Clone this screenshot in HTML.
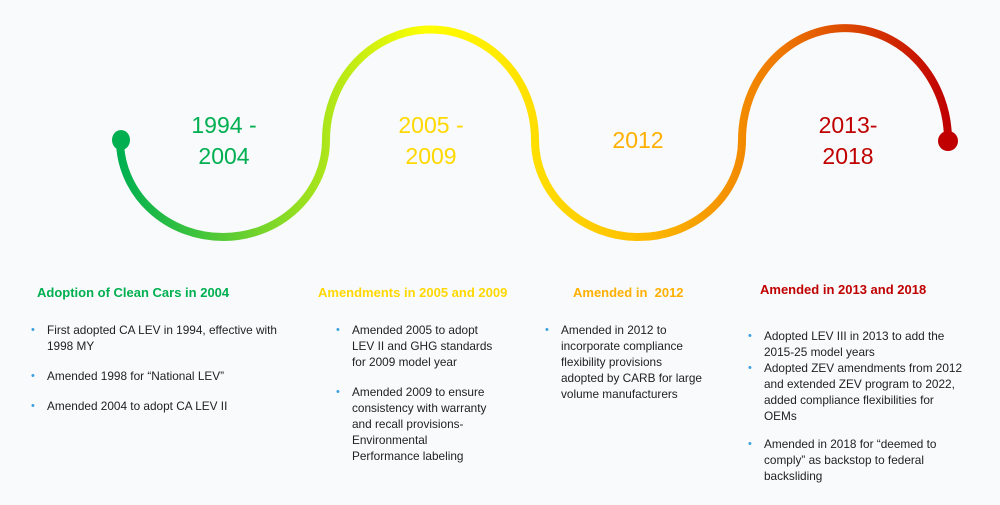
<!DOCTYPE html>
<html><head><meta charset="utf-8"><style>
body{margin:0;width:1000px;height:505px;background:#f8fafc;font-family:"Liberation Sans",sans-serif;position:relative;overflow:hidden}
.y{position:absolute;font-size:23px;text-align:center;line-height:31px;width:120px}
.h{position:absolute;font-weight:bold;font-size:13px;white-space:nowrap}
ul{position:absolute;margin:0;padding:0;list-style:none;font-size:11.8px;color:#222;line-height:16px;white-space:nowrap}
li{position:relative;padding-left:16px;margin-bottom:14px}
li:before{content:"•";position:absolute;left:0;color:#3aa0e0;font-size:11px}
</style></head><body>
<svg width="1000" height="505" style="position:absolute;left:0;top:0">
<defs><linearGradient id="g" gradientUnits="userSpaceOnUse" x1="120" y1="0" x2="948" y2="0">
<stop offset="0" stop-color="#00b050"/><stop offset="0.37" stop-color="#ffff00"/><stop offset="0.62" stop-color="#ffc000"/><stop offset="0.8" stop-color="#ee7700"/><stop offset="1" stop-color="#c00000"/></linearGradient></defs>
<path d="M120,140 A103,97 0 0 0 326,140 A104,110 0 0 1 535,140 A103.5,97 0 0 0 742,140 A103,112 0 0 1 948,140" fill="none" stroke="url(#g)" stroke-width="8"/>
<ellipse cx="121" cy="140" rx="9" ry="10" fill="#00b050"/>
<ellipse cx="948" cy="141" rx="10" ry="10" fill="#c00000"/>
</svg>
<div class="y" style="left:164px;top:110px;color:#00b050">1994 -<br>2004</div>
<div class="y" style="left:371px;top:110px;color:#ffd800">2005 -<br>2009</div>
<div class="y" style="left:578px;top:125px;color:#ffb000">2012</div>
<div class="y" style="left:788px;top:110px;color:#c00000">2013-<br>2018</div>
<div class="h" style="left:37px;top:285px;color:#00b050">Adoption of Clean Cars in 2004</div>
<div class="h" style="left:318px;top:285px;color:#ffd800">Amendments in 2005 and 2009</div>
<div class="h" style="left:573px;top:285px;color:#ffb000">Amended in &nbsp;2012</div>
<div class="h" style="left:760px;top:282px;color:#c00000">Amended in 2013 and 2018</div>
<ul style="left:31px;top:322px">
<li>First adopted CA LEV in 1994, effective with<br>1998 MY</li>
<li>Amended 1998 for “National LEV”</li>
<li>Amended 2004 to adopt CA LEV II</li></ul>
<ul style="left:336px;top:322px">
<li>Amended 2005 to adopt<br>LEV II and GHG standards<br>for 2009 model year</li>
<li>Amended 2009 to ensure<br>consistency with warranty<br>and recall provisions-<br>Environmental<br>Performance labeling</li></ul>
<ul style="left:545px;top:322px">
<li>Amended in 2012 to<br>incorporate compliance<br>flexibility provisions<br>adopted by CARB for large<br>volume manufacturers</li></ul>
<ul style="left:748px;top:328px">
<li style="margin-bottom:0">Adopted LEV III in 2013 to add the<br>2015-25 model years</li>
<li style="margin-bottom:12px">Adopted ZEV amendments from 2012<br>and extended ZEV program to 2022,<br>added compliance flexibilities for<br>OEMs</li>
<li>Amended in 2018 for “deemed to<br>comply” as backstop to federal<br>backsliding</li></ul>
</body></html>
